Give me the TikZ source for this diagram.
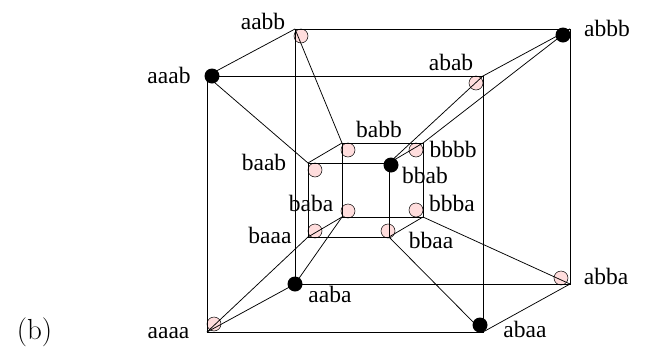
\documentclass[tikz,border=0pt]{standalone}
\usepackage{fontspec}
\setmainfont{Liberation Serif}
\newfontfamily\cmfont{Latin Modern Roman}
\definecolor{pinkfill}{HTML}{FFDDDD}
\tikzset{
  edgeline/.style={draw=black,line width=0.75pt},
  corner/.style={inner sep=0pt,minimum size=0pt},
  pinkdot/.style={circle,draw=black,fill=pinkfill,line width=0.5pt,minimum size=14pt,inner sep=0pt},
  blackdot/.style={circle,fill=black,minimum size=15pt,inner sep=0pt},
  lab/.style={anchor=base,inner sep=0pt,font=\fontsize{23.5}{23.5}\selectfont}
}
\begin{document}
\begin{tikzpicture}[x=1pt,y=-1pt]
\useasboundingbox (0,0) rectangle (649,354);
% corners
\coordinate (A1) at (207,76);
\coordinate (A2) at (483,76);
\coordinate (A3) at (483,332);
\coordinate (A4) at (207,332);
\coordinate (B1) at (295,29);
\coordinate (B2) at (570,29);
\coordinate (B3) at (570,284);
\coordinate (B4) at (295,284);
\coordinate (C1) at (308,163);
\coordinate (C2) at (389,163);
\coordinate (C3) at (389,237);
\coordinate (C4) at (308,237);
\coordinate (D1) at (342,143);
\coordinate (D2) at (423,143);
\coordinate (D3) at (423,217);
\coordinate (D4) at (342,217);
% pink vertices
\node[pinkdot] (aabbv) at (301,36) {};
\node[pinkdot] (ababv) at (476,83) {};
\node[pinkdot] (abbav) at (561,278) {};
\node[pinkdot] (aaaav) at (214,324) {};
\node[pinkdot] (babbv) at (348,150) {};
\node[pinkdot] (bbbbv) at (416,150) {};
\node[pinkdot] (baabv) at (315,170) {};
\node[pinkdot] (babav) at (348,211) {};
\node[pinkdot] (bbbav) at (416,210) {};
\node[pinkdot] (baaav) at (315,231) {};
\node[pinkdot] (bbaav) at (388,231) {};
% edges
\draw[edgeline] (A1) -- (A2) -- (A3) -- (A4) -- cycle;
\draw[edgeline] (B1) -- (B2) -- (B3) -- (B4) -- cycle;
\draw[edgeline] (C1) -- (C2) -- (C3) -- (C4) -- cycle;
\draw[edgeline] (D1) -- (D2) -- (D3) -- (D4) -- cycle;
\draw[edgeline] (A1) -- (B1);
\draw[edgeline] (A2) -- (B2);
\draw[edgeline] (A3) -- (B3);
\draw[edgeline] (A4) -- (B4);
\draw[edgeline] (C1) -- (D1);
\draw[edgeline] (C2) -- (D2);
\draw[edgeline] (C3) -- (D3);
\draw[edgeline] (C4) -- (D4);
\draw[edgeline] (A1) -- (C1);
\draw[edgeline] (A2) -- (C2);
\draw[edgeline] (A3) -- (C3);
\draw[edgeline] (A4) -- (C4);
\draw[edgeline] (B1) -- (D1);
\draw[edgeline] (B2) -- (D2);
\draw[edgeline] (B3) -- (D3);
\draw[edgeline] (B4) -- (D4);
% black vertices
\node[blackdot] (aaabv) at (212,76) {};
\node[blackdot] (abbbv) at (563,35) {};
\node[blackdot] (aabav) at (295,284) {};
\node[blackdot] (abaav) at (480,325) {};
\node[blackdot] (bbabv) at (391,165) {};
% labels
\node[lab] (aabb) at (263,29) {aabb};
\node[lab] (aaab) at (169,83) {aaab};
\node[lab] (abbb) at (607,36) {abbb};
\node[lab] (abab) at (451,70) {abab};
\node[lab] (babb) at (379,137) {babb};
\node[lab] (bbbb) at (453,157) {bbbb};
\node[lab] (baab) at (264,170) {baab};
\node[lab] (bbab) at (425,183) {bbab};
\node[lab] (baba) at (311,211) {baba};
\node[lab] (bbba) at (452,211) {bbba};
\node[lab] (baaa) at (270,243) {baaa};
\node[lab] (bbaa) at (431,248) {bbaa};
\node[lab] (aaba) at (330,302) {aaba};
\node[lab] (abba) at (606,284) {abba};
\node[lab] (abaa) at (525,337) {abaa};
\node[lab] (aaaa) at (168.5,338) {aaaa};
\node[anchor=base,inner sep=0pt,font=\cmfont\fontsize{29}{29}\selectfont] (blabel) at (34.5,339) {(b)};
\end{tikzpicture}
\end{document}
